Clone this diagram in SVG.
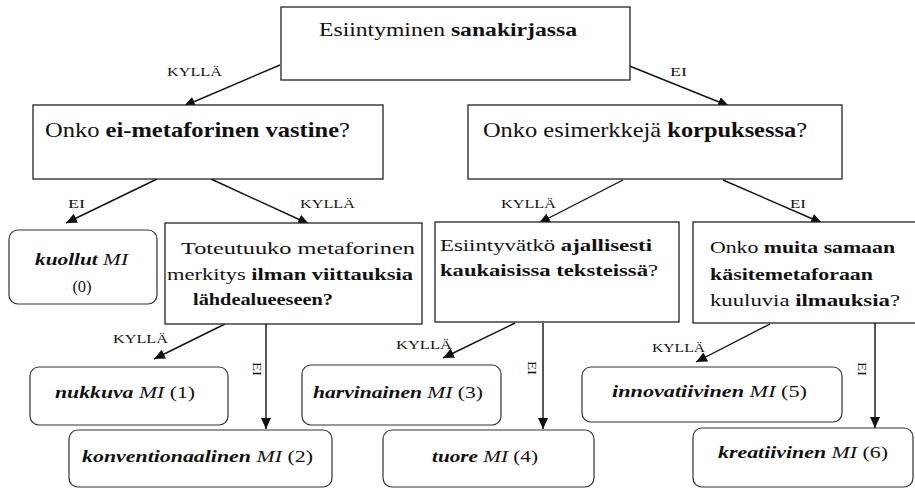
<svg xmlns="http://www.w3.org/2000/svg" width="915" height="488" viewBox="0 0 915 488" font-family="'Liberation Serif', 'Times New Roman', Tinos, 'DejaVu Serif', 'Noto Serif', serif">
<style>
text{fill:#111}
.b{font-weight:bold}
.i{font-style:italic}
.bi{font-style:italic;font-weight:bold}
.box{fill:#fff;stroke:#222;stroke-width:1.3}
.rbox{fill:#fff;stroke:#333;stroke-width:1.2}
.c{fill:none;stroke:#111;stroke-width:1.4;marker-end:url(#ah)}
.t0{font-size:18px}
.t1{font-size:21px}
.t2{font-size:16.5px}
.t3{font-size:17px}
.lb{font-size:12px}
</style>
<defs>
<marker id="ah" markerUnits="userSpaceOnUse" markerWidth="12" markerHeight="10" refX="11" refY="5" orient="auto">
<path d="M0,0 L11,5 L0,10 Z" fill="#111"/>
</marker>
</defs>
<g id="connectors">
<line class="c" x1="280" y1="65" x2="184" y2="106"/>
<line class="c" x1="627" y1="65" x2="729" y2="106"/>
<line class="c" x1="157" y1="179" x2="66" y2="223"/>
<line class="c" x1="211" y1="179" x2="309" y2="224"/>
<line class="c" x1="623" y1="180" x2="539" y2="223"/>
<line class="c" x1="723" y1="180" x2="822" y2="223"/>
<line class="c" x1="225" y1="324" x2="154" y2="359"/>
<line class="c" x1="266" y1="324" x2="266" y2="429"/>
<line class="c" x1="515" y1="323" x2="443" y2="358"/>
<line class="c" x1="543" y1="323" x2="543" y2="429"/>
<line class="c" x1="770" y1="324" x2="696" y2="362"/>
<line class="c" x1="875" y1="323" x2="875" y2="428"/>
<text class="lb" x="167" y="76" textLength="55" lengthAdjust="spacingAndGlyphs">KYLLÄ</text>
<text class="lb" x="670" y="76" textLength="17" lengthAdjust="spacingAndGlyphs">EI</text>
<text class="lb" x="68" y="208" textLength="17" lengthAdjust="spacingAndGlyphs">EI</text>
<text class="lb" x="300" y="208" textLength="55" lengthAdjust="spacingAndGlyphs">KYLLÄ</text>
<text class="lb" x="501" y="208" textLength="55" lengthAdjust="spacingAndGlyphs">KYLLÄ</text>
<text class="lb" x="790" y="208" textLength="16" lengthAdjust="spacingAndGlyphs">EI</text>
<text class="lb" x="113" y="343" textLength="55" lengthAdjust="spacingAndGlyphs">KYLLÄ</text>
<text class="lb" x="396" y="349" textLength="56" lengthAdjust="spacingAndGlyphs">KYLLÄ</text>
<text class="lb" x="652" y="352" textLength="53" lengthAdjust="spacingAndGlyphs">KYLLÄ</text>
<text class="lb" transform="translate(253,369) rotate(90)" x="-7" y="0" textLength="14" lengthAdjust="spacingAndGlyphs">EI</text>
<text class="lb" transform="translate(528,368) rotate(90)" x="-7" y="0" textLength="14" lengthAdjust="spacingAndGlyphs">EI</text>
<text class="lb" transform="translate(858,369) rotate(90)" x="-7" y="0" textLength="14" lengthAdjust="spacingAndGlyphs">EI</text>
</g>
<g id="n-top">
<rect class="box" x="281" y="7" width="349" height="73"/>
<text class="t0" x="319" y="36" textLength="258" lengthAdjust="spacingAndGlyphs">Esiintyminen <tspan class="b">sanakirjassa</tspan></text>
</g>
<g id="n-vastine">
<rect class="box" x="33" y="105" width="350" height="74"/>
<text class="t1" x="45" y="137" textLength="305" lengthAdjust="spacingAndGlyphs">Onko <tspan class="b">ei-metaforinen vastine</tspan>?</text>
</g>
<g id="n-korpus">
<rect class="box" x="468" y="105" width="374" height="74"/>
<text class="t1" x="483" y="137" textLength="324" lengthAdjust="spacingAndGlyphs">Onko esimerkkejä <tspan class="b">korpuksessa</tspan>?</text>
</g>
<g id="n-kuollut">
<rect class="rbox" x="9" y="230" width="148" height="74" rx="9"/>
<text class="t2" x="35" y="265" textLength="93" lengthAdjust="spacingAndGlyphs"><tspan class="bi">kuollut</tspan> <tspan class="i">MI</tspan></text>
<text class="t2" x="82" y="292" text-anchor="middle">(0)</text>
</g>
<g id="n-toteutuuko">
<rect class="box" x="165" y="223" width="257" height="101"/>
<text class="t2" x="181" y="254" textLength="234" lengthAdjust="spacingAndGlyphs">Toteutuuko metaforinen</text>
<text class="t2" x="167" y="280" textLength="246" lengthAdjust="spacingAndGlyphs">merkitys <tspan class="b">ilman viittauksia</tspan></text>
<text class="t2 b" x="193" y="305" textLength="140" lengthAdjust="spacingAndGlyphs">lähdealueeseen?</text>
</g>
<g id="n-esiintyvatko">
<rect class="box" x="435" y="222" width="244" height="100"/>
<text class="t2" x="440" y="251" textLength="212" lengthAdjust="spacingAndGlyphs">Esiintyvätkö <tspan class="b">ajallisesti</tspan></text>
<text class="t2" x="440" y="276" textLength="218" lengthAdjust="spacingAndGlyphs"><tspan class="b">kaukaisissa teksteissä</tspan>?</text>
</g>
<g id="n-muita">
<rect class="box" x="693" y="222" width="240" height="101"/>
<text class="t2" x="710" y="253" textLength="185" lengthAdjust="spacingAndGlyphs">Onko <tspan class="b">muita samaan</tspan></text>
<text class="t2 b" x="710" y="280" textLength="163" lengthAdjust="spacingAndGlyphs">käsitemetaforaan</text>
<text class="t2" x="710" y="306" textLength="190" lengthAdjust="spacingAndGlyphs">kuuluvia <tspan class="b">ilmauksia</tspan>?</text>
</g>
<g id="n-nukkuva">
<rect class="rbox" x="30" y="367" width="198" height="58" rx="9"/>
<text class="t3" x="55" y="398" textLength="140" lengthAdjust="spacingAndGlyphs"><tspan class="bi">nukkuva</tspan> <tspan class="i">MI</tspan> (1)</text>
</g>
<g id="n-konventionaalinen">
<rect class="rbox" x="69" y="430" width="263" height="57" rx="9"/>
<text class="t3" x="82" y="462" textLength="231" lengthAdjust="spacingAndGlyphs"><tspan class="bi">konventionaalinen</tspan> <tspan class="i">MI</tspan> (2)</text>
</g>
<g id="n-harvinainen">
<rect class="rbox" x="302" y="365" width="199" height="60" rx="9"/>
<text class="t3" x="313" y="398" textLength="170" lengthAdjust="spacingAndGlyphs"><tspan class="bi">harvinainen</tspan> <tspan class="i">MI</tspan> (3)</text>
</g>
<g id="n-tuore">
<rect class="rbox" x="383" y="430" width="211" height="57" rx="9"/>
<text class="t3" x="432" y="462" textLength="106" lengthAdjust="spacingAndGlyphs"><tspan class="bi">tuore</tspan> <tspan class="i">MI</tspan> (4)</text>
</g>
<g id="n-innovatiivinen">
<rect class="rbox" x="582" y="367" width="260" height="55" rx="9"/>
<text class="t3" x="612" y="397" textLength="195" lengthAdjust="spacingAndGlyphs"><tspan class="bi">innovatiivinen</tspan> <tspan class="i">MI</tspan> (5)</text>
</g>
<g id="n-kreatiivinen">
<rect class="rbox" x="693" y="428" width="220" height="59" rx="9"/>
<text class="t3" x="718" y="458" textLength="170" lengthAdjust="spacingAndGlyphs"><tspan class="bi">kreatiivinen</tspan> <tspan class="i">MI</tspan> (6)</text>
</g>
</svg>
